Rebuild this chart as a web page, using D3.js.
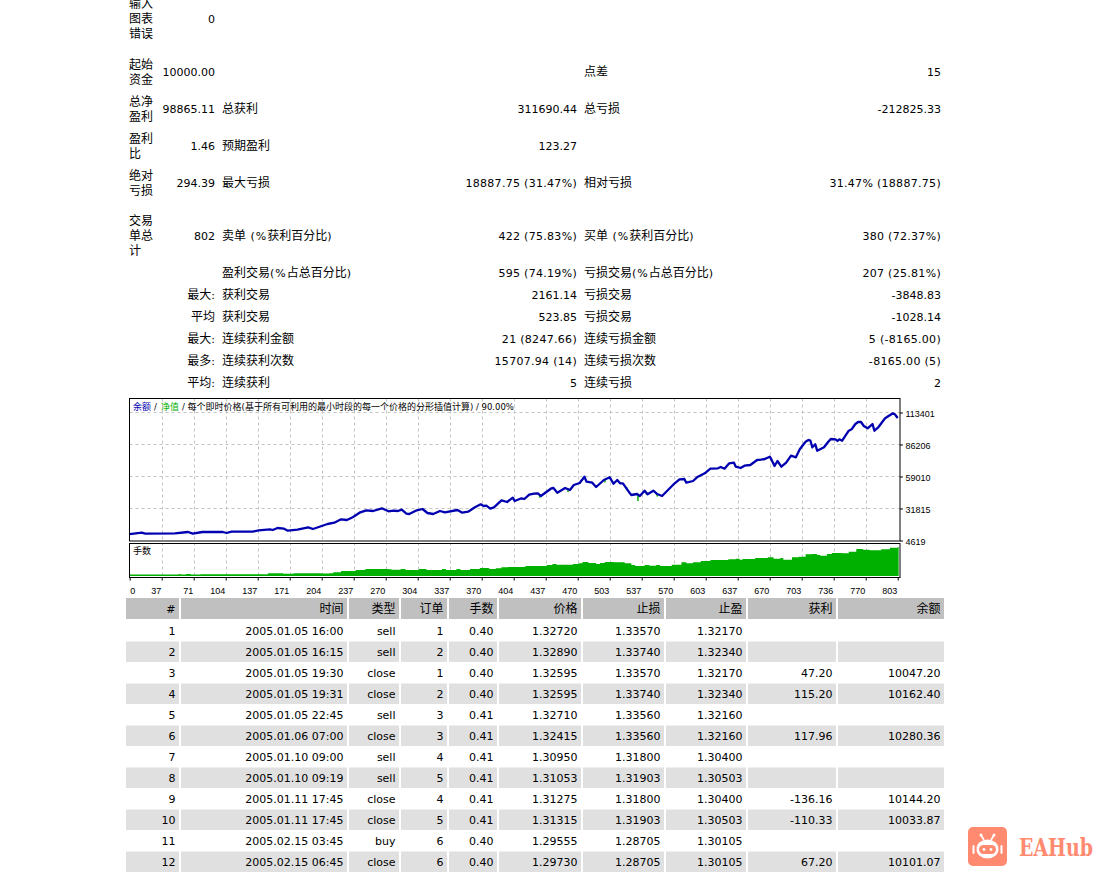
<!DOCTYPE html>
<html lang="zh">
<head>
<meta charset="UTF-8">
<title>策略测试报告</title>
<script src="https://cdn.jsdelivr.net/npm/d3@7"></script>
<style>
    body { margin: 0; background: #fff; overflow: hidden; }
    svg { display: block; }
</style>
</head>
<body>
<div id="report"></div>
<script>
// 汇总区: 每行 [左标签, 左值, 中标签, 中值, 右标签, 右值]
const summaryLabels = [["输入","图表","错误"],["起始","资金"],["总净","盈利"],["盈利","比"],["绝对","亏损"],["交易","单总","计"],[""],["最大:"],["平均"],["最大:"],["最多:"],["平均:"]];
const summaryValues = ["0","10000.00","98865.11","1.46","294.39","802","","","","","",""];
const midLabels = ["","","总获利","预期盈利","最大亏损","卖单 (%获利百分比)","盈利交易(%占总百分比)","获利交易","获利交易","连续获利金额","连续获利次数","连续获利"];
const midValues = ["","","311690.44","123.27","18887.75 (31.47%)","422 (75.83%)","595 (74.19%)","2161.14","523.85","21 (8247.66)","15707.94 (14)","5"];
const rightLabels = ["","点差","总亏损","","相对亏损","买单 (%获利百分比)","亏损交易(%占总百分比)","亏损交易","亏损交易","连续亏损金额","连续亏损次数","连续亏损"];
const rightValues = ["","15","-212825.33","","31.47% (18887.75)","380 (72.37%)","207 (25.81%)","-3848.83","-1028.14","5 (-8165.00)","-8165.00 (5)","2"];

// 余额曲线
const balanceIdx = [0,14,18,51,65,70,80,101,105,110,132,138,150,153,158,165,169,179,190,195,204,210,217,224,230,236,243,250,257,266,273,278,283,287,292,295,302,309,314,320,327,332,345,350,356,363,369,372,375,379,383,391,397,403,405,412,415,420,425,429,432,443,445,449,457,462,466,472,477,479,485,489,497,503,507,511,514,517,524,526,532,535,540,543,549,553,558,571,576,581,583,590,594,602,608,616,619,623,628,633,635,640,644,650,657,661,665,670,671,675,678,682,687,692,697,701,707,710,712,714,717,719,726,730,733,738,740,742,745,752,755,759,762,765,768,772,777,779,783,790,798,800,803];
const balance = [10000,11248,10398,10738,11843,10398,11843,11843,10993,12098,12098,13287,14137,13542,15242,14647,12947,13797,15837,14392,16942,18641,19746,22636,22041,24335,28245,30284,29689,31984,29434,29944,29689,30794,27395,27140,29944,31389,27990,27140,29689,28584,30539,28245,29094,32834,35383,33938,34193,31644,32834,38783,37338,40992,38188,40482,39887,43542,44392,44731,42437,48981,49236,45241,49236,47536,51785,53485,58839,54590,53740,50085,56034,58329,52890,56034,53230,53230,45241,43287,44137,42437,46941,43882,46941,44137,42437,53230,56629,56884,53740,55184,58329,61728,65637,65977,67082,65637,70227,70737,67337,66232,68187,68782,73031,73286,73881,75836,74731,67932,72181,67337,70737,76685,75326,82124,88583,90028,89433,83824,86374,80935,83824,88073,90878,90623,89178,90623,89433,97931,99121,103625,105325,105325,101926,99971,103625,97931,100821,108469,112719,111866,108724];

// 净值相对余额的回撤尖刺
const equityIdx = [431,460,498,521,533,542,553];
const equityHigh = [43000,49000,56034,50085,44137,45841,44137];
const equityLow = [40992,45836,53910,47536,38188,43287,42012];

// 手数
const lotsIdx = [0,54,55,57,63,68,78,147,148,164,175,186,204,212,216,224,239,249,258,269,273,276,286,291,304,305,313,328,329,333,343,344,348,358,368,378,385,391,398,412,416,437,438,444,448,458,465,471,475,481,489,493,498,507,514,519,526,530,538,540,545,552,556,563,568,578,583,590,598,608,622,627,635,639,642,655,668,674,681,684,693,700,707,714,719,722,729,734,745,752,760,767,774,781,786,795,803,804];
const lots = [0.40,0.40,0.55,0.40,0.55,0.40,0.50,0.50,0.75,0.60,0.75,0.75,0.65,0.71,0.98,1.33,1.60,1.87,1.87,1.87,1.78,1.69,1.87,1.60,1.60,1.87,1.60,1.60,1.87,1.60,1.60,1.87,1.60,1.87,2.13,1.87,2.04,2.31,2.40,2.40,2.67,2.67,2.93,3.20,3.02,3.02,3.20,3.38,3.73,3.47,3.20,3.47,3.73,3.64,3.64,3.38,2.93,2.67,2.67,2.93,2.76,2.93,2.67,2.67,3.02,3.64,3.38,3.64,4.00,4.27,4.27,4.44,4.62,4.36,4.53,4.80,4.98,4.62,4.80,4.36,4.98,5.16,5.78,5.87,5.60,5.42,5.87,6.13,6.04,6.49,7.20,7.02,6.84,6.84,7.11,7.56,7.73,7.38];

const xTicks = [0,37,71,104,137,171,204,237,270,304,337,370,404,437,470,503,537,570,603,637,670,703,736,770,803];
const yTicks = [4619,31815,59010,86206,113401];

// 交易明细
const tableHeader = ["#","时间","类型","订单","手数","价格","止损","止盈","获利","余额"];
const tradeNo = [1,2,3,4,5,6,7,8,9,10,11,12];
const tradeTime = ["2005.01.05 16:00","2005.01.05 16:15","2005.01.05 19:30","2005.01.05 19:31","2005.01.05 22:45","2005.01.06 07:00","2005.01.10 09:00","2005.01.10 09:19","2005.01.11 17:45","2005.01.11 17:45","2005.02.15 03:45","2005.02.15 06:45"];
const tradeType = ["sell","sell","close","close","sell","close","sell","sell","close","close","buy","close"];
const tradeOrder = [1,2,1,2,3,3,4,5,4,5,6,6];
const tradeLots = ["0.40","0.40","0.40","0.40","0.41","0.41","0.41","0.41","0.41","0.41","0.40","0.40"];
const tradePrice = ["1.32720","1.32890","1.32595","1.32595","1.32710","1.32415","1.30950","1.31053","1.31275","1.31315","1.29555","1.29730"];
const tradeSL = ["1.33570","1.33740","1.33570","1.33740","1.33560","1.33560","1.31800","1.31903","1.31800","1.31903","1.28705","1.28705"];
const tradeTP = ["1.32170","1.32340","1.32170","1.32340","1.32160","1.32160","1.30400","1.30503","1.30400","1.30503","1.30105","1.30105"];
const tradeProfit = ["","","47.20","115.20","","117.96","","","-136.16","-110.33","","67.20"];
const tradeBalance = ["","","10047.20","10162.40","","10280.36","","","10144.20","10033.87","","10101.07"];

const svg = d3.select("#report").append("svg").attr("width", 1107).attr("height", 873);

// 中文和数字字号不同, 拆成tspan
function putText(g, str, x, y, anchor, latinSize, cjkSize, fill) {
    const t = g.append("text").attr("x", x).attr("y", y)
        .attr("text-anchor", anchor || "start").attr("fill", fill || "#000");
    const parts = String(str).match(/[\u3000-\u9fff\uff00-\uffef]+|[^\u3000-\u9fff\uff00-\uffef]+/g) || [];
    parts.forEach(p => {
        const cjk = /[\u3000-\u9fff\uff00-\uffef]/.test(p);
        const span = t.append("tspan").text(p)
            .style("white-space", "pre")
            .style("font-family", cjk ? "'Noto Sans CJK SC'" : "'DejaVu Sans'")
            .style("font-size", (cjk ? cjkSize : latinSize) + "px");
        // 原图的括号和百分号更宽
        if (!cjk && latinSize === 11 && /[(%)]/.test(p)) {
            span.style("letter-spacing", /\d/.test(p) ? "0.3px" : "1px");
        }
    });
    return t;
}
const putBody = (g, s, x, y, a) => putText(g, s, x, y + 4, a, 11, 12);

// 1. 汇总区
const summary = svg.append("g").attr("class", "summary");
const rowY = [19,72,109,146,183,236,273,295,317,339,361,383];
rowY.forEach((y, i) => {
    const labels = summaryLabels[i];
    if (labels[0].endsWith(":") || labels[0] === "平均") {
        putBody(summary, labels[0], 215, y, "end");
    } else {
        labels.forEach((l, j) => putBody(summary, l, 129, y + (j - (labels.length - 1) / 2) * 15, "start"));
    }
    putBody(summary, summaryValues[i], 215, y, "end");
    putBody(summary, midLabels[i], 222, y, "start");
    putBody(summary, midValues[i], 577, y, "end");
    putBody(summary, rightLabels[i], 584, y, "start");
    putBody(summary, rightValues[i], 941, y, "end");
});

// 2. 图表
const chartLeft = 129.5, chartRight = 900, chartTop = 398.5, mainBottom = 541, volTop = 543.5, volBottom = 577.5, volBase = 576;
const x = d3.scaleLinear().domain(xTicks).range(xTicks.map((d, i) => 129.7 + i * 32));
const y = d3.scaleLinear().domain([4619, 113401]).range([540.5, 412.5]);
const yLots = d3.scaleLinear().domain([0, 8.8]).range([volBase, volBase - 33]);

const chart = svg.append("g").attr("class", "chart");
const gridColor = "#c4c4c4";
chart.append("g").selectAll("line").data(xTicks.slice(1, -1)).join("line")
    .attr("x1", d => Math.round(x(d)) + 0.5).attr("x2", d => Math.round(x(d)) + 0.5)
    .attr("y1", chartTop).attr("y2", volBase)
    .attr("stroke", gridColor).attr("stroke-dasharray", "3,3");
chart.append("g").selectAll("line").data(yTicks.slice(1)).join("line")
    .attr("x1", chartLeft).attr("x2", chartRight)
    .attr("y1", d => y(d)).attr("y2", d => y(d))
    .attr("stroke", gridColor).attr("stroke-dasharray", "3,3");

// 手数面积
const lotPts = d3.zip(lotsIdx, lots);
chart.append("path").datum(lotPts)
    .attr("d", d3.area().x(d => x(d[0])).y0(volBase).y1(d => yLots(d[1])).curve(d3.curveStepAfter))
    .attr("fill", "#00b000");

// 两个图之间的白条
chart.append("rect").attr("x", chartLeft).attr("y", mainBottom).attr("width", chartRight - chartLeft).attr("height", volTop - mainBottom).attr("fill", "#fff");

// 净值尖刺
chart.append("g").selectAll("line").data(equityIdx).join("line")
    .attr("x1", d => x(d)).attr("x2", d => x(d))
    .attr("y1", (d, i) => y(equityHigh[i])).attr("y2", (d, i) => y(equityLow[i]))
    .attr("stroke", "#00b000").attr("stroke-width", 1.5);

// 余额曲线
chart.append("path").datum(d3.zip(balanceIdx, balance))
    .attr("d", d3.line().x(d => x(d[0])).y(d => y(d[1])))
    .attr("fill", "none").attr("stroke", "#0000b0").attr("stroke-width", 2.3).attr("stroke-linejoin", "round");

[[chartTop, mainBottom], [volTop, volBottom]].forEach(([a, b]) => {
    chart.append("rect").attr("x", chartLeft).attr("y", a).attr("width", chartRight - chartLeft).attr("height", b - a)
        .attr("fill", "none").attr("stroke", "#000");
});

// 坐标轴
const axisFont = "9px 'Liberation Sans'";
const axisY = chart.append("g").attr("transform", `translate(${chartRight},0)`)
    .call(d3.axisRight(y).tickValues(yTicks).tickSize(3).tickFormat(d3.format("d")));
axisY.select(".domain").remove();
axisY.selectAll("text").attr("x", 5.5).attr("dy", "0.45em")
    .style("font", axisFont).attr("fill", "#000");
const axisX = chart.append("g").attr("transform", `translate(0,${volBottom})`)
    .call(d3.axisBottom(x).tickValues(xTicks).tickSize(3).tickFormat(d3.format("d")));
axisX.select(".domain").remove();
axisX.selectAll("text").attr("y", 10).attr("x", d => d === 0 ? 5 : -1).attr("text-anchor", "end")
    .style("font", axisFont).attr("fill", "#000");

// 图例文字
const legend = chart.append("g").attr("class", "legend");
putText(legend, "余额", 133, 410, "start", 8.5, 9, "#0000b0");
putText(legend, "/", 154, 410, "start", 8.5, 9);
putText(legend, "净值", 161, 410, "start", 8.5, 9, "#00b000");
putText(legend, "/ 每个即时价格(基于所有可利用的最小时段的每一个价格的分形插值计算) / 90.00%", 182, 410, "start", 8.5, 9);
putText(legend, "手数", 133, 554, "start", 8.5, 9);

// 3. 交易表
const colEdges = [[126,179],[181,347],[349,399],[401,447],[449,497],[499,581],[583,664],[666,746],[748,836],[838,944]];
const columns = [tradeNo, tradeTime, tradeType, tradeOrder, tradeLots, tradePrice, tradeSL, tradeTP, tradeProfit, tradeBalance];
const table = svg.append("g").attr("class", "trades");
const rowPos = d3.scaleLinear().domain([1, 12]).range([631, 862]);

colEdges.forEach((c, i) => {
    table.append("rect").attr("x", c[0]).attr("y", 598).attr("width", c[1] - c[0]).attr("height", 21).attr("fill", "#c0c0c0");
    tradeNo.filter(n => n % 2 === 0).forEach(n => {
        table.append("rect").attr("x", c[0]).attr("y", rowPos(n) - 10.5).attr("width", c[1] - c[0]).attr("height", 20.5).attr("fill", "#e0e0e0");
    });
    putBody(table, tableHeader[i], c[1] - 3.5, 609, "end");
    columns[i].forEach((v, k) => putBody(table, v, c[1] - 3.5, rowPos(tradeNo[k]), "end"));
});

// 4. 水印
const logo = svg.append("g").attr("class", "logo");
const coral = "#ff8a70";
logo.append("rect").attr("x", 968).attr("y", 827).attr("width", 39).attr("height", 39).attr("rx", 5).attr("fill", coral);
logo.append("ellipse").attr("cx", 987.5).attr("cy", 849).attr("rx", 11).attr("ry", 9.5).attr("fill", "#fff");
logo.append("rect").attr("x", 979).attr("y", 845).attr("width", 17).attr("height", 9).attr("rx", 4.5).attr("fill", coral);
logo.append("circle").attr("cx", 984).attr("cy", 849.5).attr("r", 1.4).attr("fill", "#fff");
logo.append("circle").attr("cx", 991).attr("cy", 849.5).attr("r", 1.4).attr("fill", "#fff");
[[981, 835, 984, 840], [994, 835, 991, 840]].forEach(a => {
    logo.append("line").attr("x1", a[0]).attr("y1", a[1]).attr("x2", a[2]).attr("y2", a[3]).attr("stroke", "#fff").attr("stroke-width", 1.6);
    logo.append("circle").attr("cx", a[0]).attr("cy", a[1]).attr("r", 1.5).attr("fill", "#fff");
});
[973.5, 1001.5].forEach(cx => logo.append("rect").attr("x", cx - 1).attr("y", 845).attr("width", 2).attr("height", 9).attr("rx", 1).attr("fill", "#fff"));
logo.append("text").text("EAHub").attr("x", 1019).attr("y", 856)
    .attr("textLength", 74).attr("lengthAdjust", "spacingAndGlyphs")
    .style("font", "bold 24px 'DejaVu Serif'").attr("fill", coral);
</script>
</body>
</html>
